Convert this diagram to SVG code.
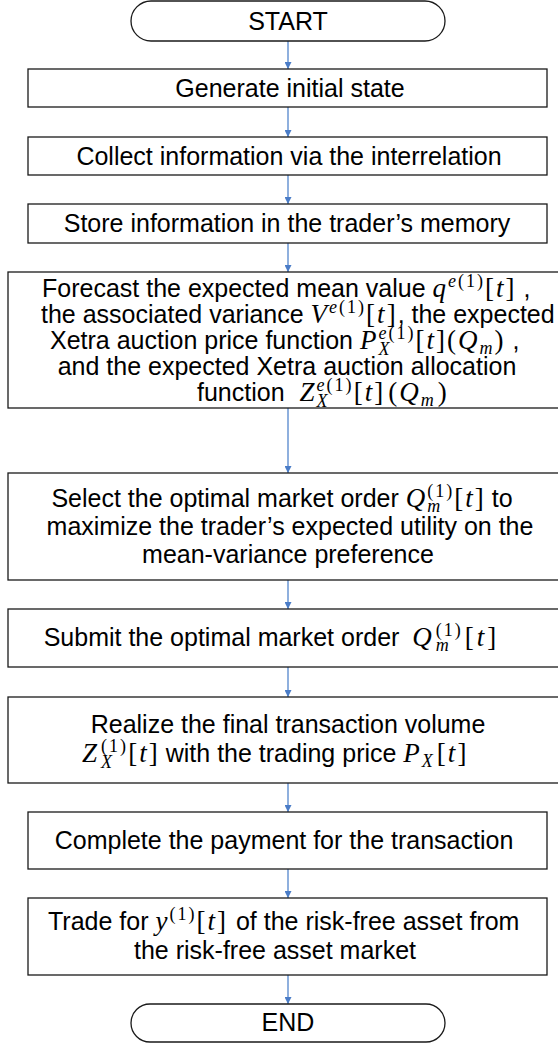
<svg xmlns="http://www.w3.org/2000/svg" width="558" height="1043" viewBox="0 0 558 1043">
<style>
.box{fill:#fff;stroke:#1a1a1a;stroke-width:1.3}
.t{font-family:"Liberation Sans",Arial,Helvetica,sans-serif;font-size:25px;fill:#000}
.m{font-family:"Liberation Serif","Times New Roman",serif;font-size:27px;letter-spacing:2px}
.s{font-family:"Liberation Serif","Times New Roman",serif;font-size:18px;letter-spacing:2px}
.i{font-style:italic}
.c{stroke:#8fb0de;stroke-width:2;fill:none;marker-end:url(#ah)}
</style>
<defs>
<marker id="ah" markerUnits="userSpaceOnUse" markerWidth="8" markerHeight="7" refX="7" refY="3.5" orient="auto">
<path d="M0,0 L7,3.5 L0,7 z" fill="#4a7cc7"/>
</marker>
</defs>
<g id="connectors">
<line class="c" x1="288" y1="41" x2="288" y2="69"/>
<line class="c" x1="288" y1="107" x2="288" y2="137"/>
<line class="c" x1="288" y1="175" x2="288" y2="204"/>
<line class="c" x1="288" y1="243" x2="288" y2="272"/>
<line class="c" x1="288" y1="408" x2="288" y2="473"/>
<line class="c" x1="288" y1="580" x2="288" y2="609"/>
<line class="c" x1="288" y1="667" x2="288" y2="697"/>
<line class="c" x1="288" y1="783" x2="288" y2="812"/>
<line class="c" x1="288" y1="869" x2="288" y2="898"/>
<line class="c" x1="288" y1="975" x2="288" y2="1004"/>
</g>
<g id="start">
<rect class="box" x="131" y="1" width="314" height="40" rx="20"/>
<text class="t" x="288" y="30" text-anchor="middle">START</text>
</g>
<g id="generate">
<rect class="box" x="28" y="69" width="519" height="38"/>
<text class="t" x="290" y="97" text-anchor="middle">Generate initial state</text>
</g>
<g id="collect">
<rect class="box" x="28" y="137" width="519" height="38"/>
<text class="t" x="289" y="165" text-anchor="middle">Collect information via the interrelation</text>
</g>
<g id="store">
<rect class="box" x="28" y="204" width="519" height="39"/>
<text class="t" x="287" y="232" text-anchor="middle">Store information in the trader’s memory</text>
</g>
<g id="forecast">
<rect class="box" x="8" y="272" width="560" height="136"/>
<text class="t" x="42" y="297">Forecast the expected mean value <tspan class="m i">q</tspan><tspan class="s i" dy="-10">e</tspan><tspan class="s">(1)</tspan><tspan class="m" dy="10">[</tspan><tspan class="m i">t</tspan><tspan class="m">]</tspan> ,</text>
<text class="t" x="41" y="323">the associated variance <tspan class="m i">V</tspan><tspan class="s i" dy="-10">e</tspan><tspan class="s">(1)</tspan><tspan class="m" dy="10">[</tspan><tspan class="m i">t</tspan><tspan class="m">]</tspan>, the expected</text>
<text class="t" x="50" y="349">Xetra auction price function <tspan class="m i">P</tspan><tspan class="s i" dy="-10">e</tspan><tspan class="s">(1)</tspan><tspan class="s i" dx="-37" dy="16">X</tspan><tspan class="m" dx="24.2" dy="-6">[</tspan><tspan class="m i">t</tspan><tspan class="m">](</tspan><tspan class="m i">Q</tspan><tspan class="s i" dy="5">m</tspan><tspan class="m" dy="-5">)</tspan> ,</text>
<text class="t" x="287" y="375" text-anchor="middle">and the expected Xetra auction allocation</text>
<text class="t" x="197" y="401">function <tspan class="m i" dx="8">Z</tspan><tspan class="s i" dy="-10">e</tspan><tspan class="s">(1)</tspan><tspan class="s i" dx="-37" dy="16">X</tspan><tspan class="m" dx="24.2" dy="-6">[</tspan><tspan class="m i">t</tspan><tspan class="m">]</tspan><tspan class="m" dx="3">(</tspan><tspan class="m i">Q</tspan><tspan class="s i" dy="5">m</tspan><tspan class="m" dx="2" dy="-5">)</tspan></text>
</g>
<g id="select">
<rect class="box" x="8" y="473" width="560" height="107"/>
<text class="t" x="282" y="507" text-anchor="middle">Select the optimal market order <tspan class="m i">Q</tspan><tspan class="s" dy="-10">(1)</tspan><tspan class="s i" dx="-27" dy="15">m</tspan><tspan class="m" dx="12" dy="-5">[</tspan><tspan class="m i">t</tspan><tspan class="m">]</tspan><tspan dx="6">to</tspan></text>
<text class="t" x="290" y="535" text-anchor="middle">maximize the trader’s expected utility on the</text>
<text class="t" x="288" y="563" text-anchor="middle">mean-variance preference</text>
</g>
<g id="submit">
<rect class="box" x="8" y="609" width="560" height="58"/>
<text class="t" x="271" y="646" text-anchor="middle">Submit the optimal market order <tspan class="m i" dx="6">Q</tspan><tspan class="s" dx="2" dy="-10">(1)</tspan><tspan class="s i" dx="-27" dy="15">m</tspan><tspan class="m" dx="14" dy="-5">[</tspan><tspan class="m i" dx="1">t</tspan><tspan class="m" dx="1">]</tspan></text>
</g>
<g id="realize">
<rect class="box" x="8" y="697" width="560" height="86"/>
<text class="t" x="288" y="733" text-anchor="middle">Realize the final transaction volume</text>
<text class="t" x="82" y="762"><tspan class="m i">Z</tspan><tspan class="s" dx="2" dy="-10">(1)</tspan><tspan class="s i" dx="-27" dy="16">X</tspan><tspan class="m" dx="14.2" dy="-6">[</tspan><tspan class="m i">t</tspan><tspan class="m">]</tspan><tspan dx="6">with the trading price </tspan><tspan class="m i">P</tspan><tspan class="s i" dy="5">X</tspan><tspan class="m" dx="2" dy="-5">[</tspan><tspan class="m i">t</tspan><tspan class="m">]</tspan></text>
</g>
<g id="complete">
<rect class="box" x="28" y="812" width="519" height="57"/>
<text class="t" x="284" y="849" text-anchor="middle">Complete the payment for the transaction</text>
</g>
<g id="trade">
<rect class="box" x="28" y="898" width="519" height="77"/>
<text class="t" x="48" y="930">Trade for <tspan class="m i">y</tspan><tspan class="s" dy="-10">(1)</tspan><tspan class="m" dy="10">[</tspan><tspan class="m i">t</tspan><tspan class="m">]</tspan><tspan dx="8">of the risk-free asset from</tspan></text>
<text class="t" x="275" y="959" text-anchor="middle">the risk-free asset market</text>
</g>
<g id="end">
<rect class="box" x="131" y="1004" width="314" height="38" rx="19"/>
<text class="t" x="288" y="1031" text-anchor="middle">END</text>
</g>
</svg>
